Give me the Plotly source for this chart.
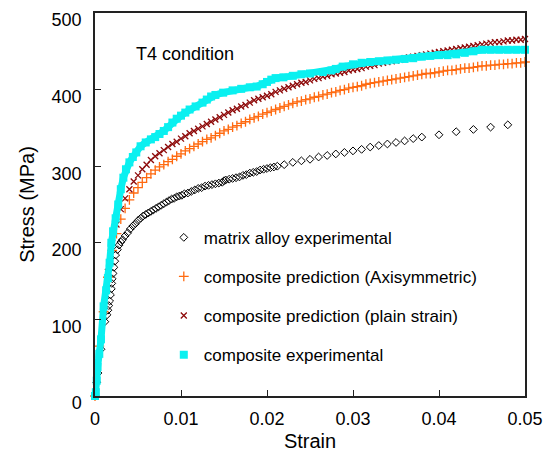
import plotly.graph_objects as go

# ---------------- data ----------------
matrix_strain = [0, 0.0002, 0.00035, 0.0007, 0.00115, 0.0014, 0.0015, 0.0016, 0.0017, 0.0018,
                 0.0019, 0.00195, 0.002, 0.0021, 0.0022, 0.0023, 0.0024, 0.0026, 0.0028, 0.003,
                 0.0032, 0.0035, 0.0038, 0.0041, 0.0044, 0.0047, 0.005, 0.0053, 0.0056, 0.0059,
                 0.0062, 0.0065, 0.0068, 0.0071, 0.0074, 0.0077, 0.008, 0.0083, 0.0086, 0.0089,
                 0.0092, 0.0095, 0.0098, 0.0101, 0.0104, 0.0108, 0.0112, 0.0116, 0.012, 0.0124,
                 0.0128, 0.0132, 0.0136, 0.014, 0.0144, 0.0148, 0.015, 0.0152, 0.0156, 0.016,
                 0.0164, 0.0168, 0.0172, 0.0176, 0.018, 0.0184, 0.0188, 0.0192, 0.0196, 0.02,
                 0.0204, 0.0208, 0.0212, 0.022, 0.023, 0.024, 0.025, 0.026, 0.027, 0.028,
                 0.029, 0.030, 0.031, 0.032, 0.033, 0.034, 0.035, 0.036, 0.037, 0.038,
                 0.040, 0.042, 0.044, 0.046, 0.048]
matrix_stress = [0, 18, 30, 61, 97, 106, 112, 118, 124, 132,
                 140, 147, 153, 160, 168, 176, 184, 191, 197, 201,
                 204, 209, 213, 218, 222, 225, 229, 232, 235, 237,
                 239, 241, 243, 245, 247, 249, 251, 253, 255, 257,
                 258, 260, 261, 262, 264, 265, 267, 269, 271, 272,
                 274, 275, 276, 277, 278, 279, 281, 282, 283, 284,
                 285, 286, 288, 289, 291, 292, 293, 295, 296, 297,
                 298, 299, 300, 302, 305, 307, 309, 312, 314, 316,
                 318, 320, 322, 325, 327, 329, 331, 333, 336, 338,
                 341, 345, 348, 351, 354]

pred_strain = [0.0, 0.0005, 0.001, 0.0015, 0.002, 0.0025, 0.003, 0.0035, 0.004, 0.0045,
               0.005, 0.0055, 0.006, 0.0065, 0.007, 0.0075, 0.008, 0.0085, 0.009, 0.0095,
               0.010, 0.0105, 0.011, 0.0115, 0.012, 0.0125, 0.013, 0.0135, 0.014, 0.0145,
               0.015, 0.0155, 0.016, 0.0165, 0.017, 0.0175, 0.018, 0.0185, 0.019, 0.0195,
               0.020, 0.0205, 0.021, 0.0215, 0.022, 0.0225, 0.023, 0.0235, 0.024, 0.0245,
               0.025, 0.0255, 0.026, 0.0265, 0.027, 0.0275, 0.028, 0.0285, 0.029, 0.0295,
               0.030, 0.0305, 0.031, 0.0315, 0.032, 0.0325, 0.033, 0.0335, 0.034, 0.0345,
               0.035, 0.0355, 0.036, 0.0365, 0.037, 0.0375, 0.038, 0.0385, 0.039, 0.0395,
               0.040, 0.0405, 0.041, 0.0415, 0.042, 0.0425, 0.043, 0.0435, 0.044, 0.0445,
               0.045, 0.0455, 0.046, 0.0465, 0.047, 0.0475, 0.048, 0.0485, 0.049, 0.0495,
               0.050]
axi_stress = [0, 65, 110, 155, 190, 212, 231, 245, 256, 265,
              272, 279, 285, 290, 295, 299, 302, 306, 309, 313,
              316, 320, 323, 326, 329, 332, 335, 337, 340, 343,
              346, 348, 351, 353, 356, 358, 361, 363, 365, 368,
              370, 372, 374, 376, 378, 380, 382, 384, 385, 387,
              388, 390, 391, 393, 394, 396, 397, 399, 400, 402,
              403, 404, 405, 407, 408, 409, 410, 411, 412, 413,
              414, 415, 416, 417, 418, 419, 420, 421, 421, 422,
              423, 424, 425, 425, 426, 427, 428, 428, 429, 430,
              431, 431, 432, 432, 433, 433, 434, 434, 435, 435,
              436]
plane_stress = [0, 55, 110, 162, 200, 224, 244, 258, 270, 280,
                288, 296, 302, 308, 313, 317, 321, 325, 329, 332,
                336, 339, 343, 346, 349, 352, 355, 358, 361, 364,
                367, 370, 373, 375, 378, 380, 383, 386, 388, 390,
                392, 394, 397, 399, 401, 403, 405, 407, 409, 410,
                412, 414, 415, 417, 418, 420, 421, 422, 423, 425,
                426, 427, 428, 430, 431, 432, 434, 435, 436, 437,
                438, 439, 441, 442, 443, 444, 445, 446, 447, 448,
                449, 450, 451, 452, 453, 454, 455, 456, 457, 458,
                459, 460, 461, 462, 462, 463, 464, 464, 465, 465,
                466]

comp_strain = [0, 0.0001, 0.0002, 0.0003, 0.0005, 0.0007, 0.001, 0.0013, 0.0015, 0.0017,
               0.0019, 0.0021, 0.0024, 0.0027, 0.003, 0.0033, 0.0036, 0.004, 0.0044, 0.0048,
               0.0053, 0.0059, 0.0065, 0.007, 0.0075, 0.008, 0.0085, 0.009, 0.0095, 0.010,
               0.0105, 0.011, 0.0117, 0.0125, 0.013, 0.0135, 0.014, 0.0149, 0.016, 0.017,
               0.018, 0.0188, 0.0195, 0.020, 0.0205, 0.021, 0.0219, 0.023, 0.024, 0.025,
               0.0265, 0.0275, 0.028, 0.0288, 0.030, 0.031, 0.032, 0.033, 0.034, 0.035,
               0.036, 0.037, 0.038, 0.039, 0.040, 0.041, 0.042, 0.043, 0.044, 0.045,
               0.046, 0.047, 0.048, 0.049, 0.050]
comp_stress = [0, 5, 20, 38, 55, 74, 117, 138, 154, 174,
               200, 215, 232, 250, 270, 285, 296, 305, 312, 318,
               326, 331, 335, 338, 342, 346, 351, 357, 362, 366,
               370, 374, 378, 383, 387, 391, 393, 396, 399, 401,
               403, 404, 407, 410, 413, 415, 416, 418, 420, 421,
               423, 425, 427, 430, 433, 435, 436, 437, 438, 439,
               440, 441, 443, 444, 445, 445, 446, 448, 450, 452,
               452, 452, 452, 452, 452]

x_ticks = [0, 0.01, 0.02, 0.03, 0.04, 0.05]
x_tick_text = ["0", "0.01", "0.02", "0.03", "0.04", "0.05"]
y_ticks = [0, 100, 200, 300, 400, 500]
y_tick_text = ["0", "100", "200", "300", "400", "500"]

names = ["matrix alloy experimental",
         "composite prediction (Axisymmetric)",
         "composite prediction (plain strain)",
         "composite experimental"]

# ---------------- figure ----------------
FONT = "Liberation Sans, Arial, Helvetica, sans-serif"
CYAN = "#0AF0F0"
ORANGE = "#FF6A10"
DRED = "#8E0A0A"

fig = go.Figure()

fig.add_trace(go.Scatter(
    x=matrix_strain, y=matrix_stress, mode="markers", name=names[0],
    legendgroup="g1", cliponaxis=False,
    marker=dict(symbol="diamond-open", size=6, color="black", line=dict(width=1, color="black"))))

fig.add_trace(go.Scatter(
    x=pred_strain, y=axi_stress, mode="markers", name=names[1],
    legendgroup="g2", cliponaxis=False,
    marker=dict(symbol="cross-thin-open", size=7, color=ORANGE, line=dict(width=1.3, color=ORANGE))))

fig.add_trace(go.Scatter(
    x=pred_strain, y=plane_stress, mode="markers", name=names[2],
    legendgroup="g3", cliponaxis=False,
    marker=dict(symbol="x-thin-open", size=6, color=DRED, line=dict(width=1.3, color=DRED))))

fig.add_trace(go.Scatter(
    x=comp_strain, y=comp_stress, mode="lines+markers", showlegend=False,
    legendgroup="g4", cliponaxis=False,
    line=dict(color=CYAN, width=7),
    marker=dict(symbol="square", size=8, color=CYAN)))

fig.add_trace(go.Scatter(
    x=[None], y=[None], mode="markers", name=names[3], legendgroup="g4",
    marker=dict(symbol="square", size=8, color=CYAN)))

fig.add_annotation(
    x=0.0105, y=446, xref="x", yref="y", text="T4 condition", showarrow=False,
    font=dict(family=FONT, size=18, color="black"))

axis_common = dict(
    showgrid=False, zeroline=False, showline=True, linecolor="#222222", linewidth=1.5,
    mirror=True, ticks="inside", ticklen=6, tickwidth=1, tickcolor="#222222",
    automargin=False,
    tickfont=dict(family=FONT, size=18, color="black"))

fig.update_xaxes(
    range=[0, 0.05], tickvals=x_ticks, ticktext=x_tick_text,
    title=dict(text="Strain", font=dict(family=FONT, size=20, color="black"), standoff=6),
    ticklabelstandoff=6, **axis_common)
fig.update_yaxes(
    range=[0, 500], tickvals=y_ticks, ticktext=y_tick_text,
    title=dict(text="Stress (MPa)", font=dict(family=FONT, size=20, color="black"), standoff=12),
    ticklabelstandoff=8, ticklabelshift=7, **axis_common)

fig.update_layout(
    width=548, height=453,
    margin=dict(l=95, r=23, t=13, b=57),
    paper_bgcolor="white", plot_bgcolor="white",
    font=dict(family=FONT, color="black"),
    legend=dict(x=0.16, y=0.46, xanchor="left", yanchor="top",
                traceorder="grouped", tracegroupgap=14,
                font=dict(family=FONT, size=17, color="black"),
                bgcolor="rgba(0,0,0,0)", borderwidth=0),
)

# remove the page's default 8px body margin so the figure fills the window exactly
fig.write_html("out.html",
               config={"displayModeBar": False},
               post_script="document.body.style.margin='0';document.body.style.overflow='hidden';")
